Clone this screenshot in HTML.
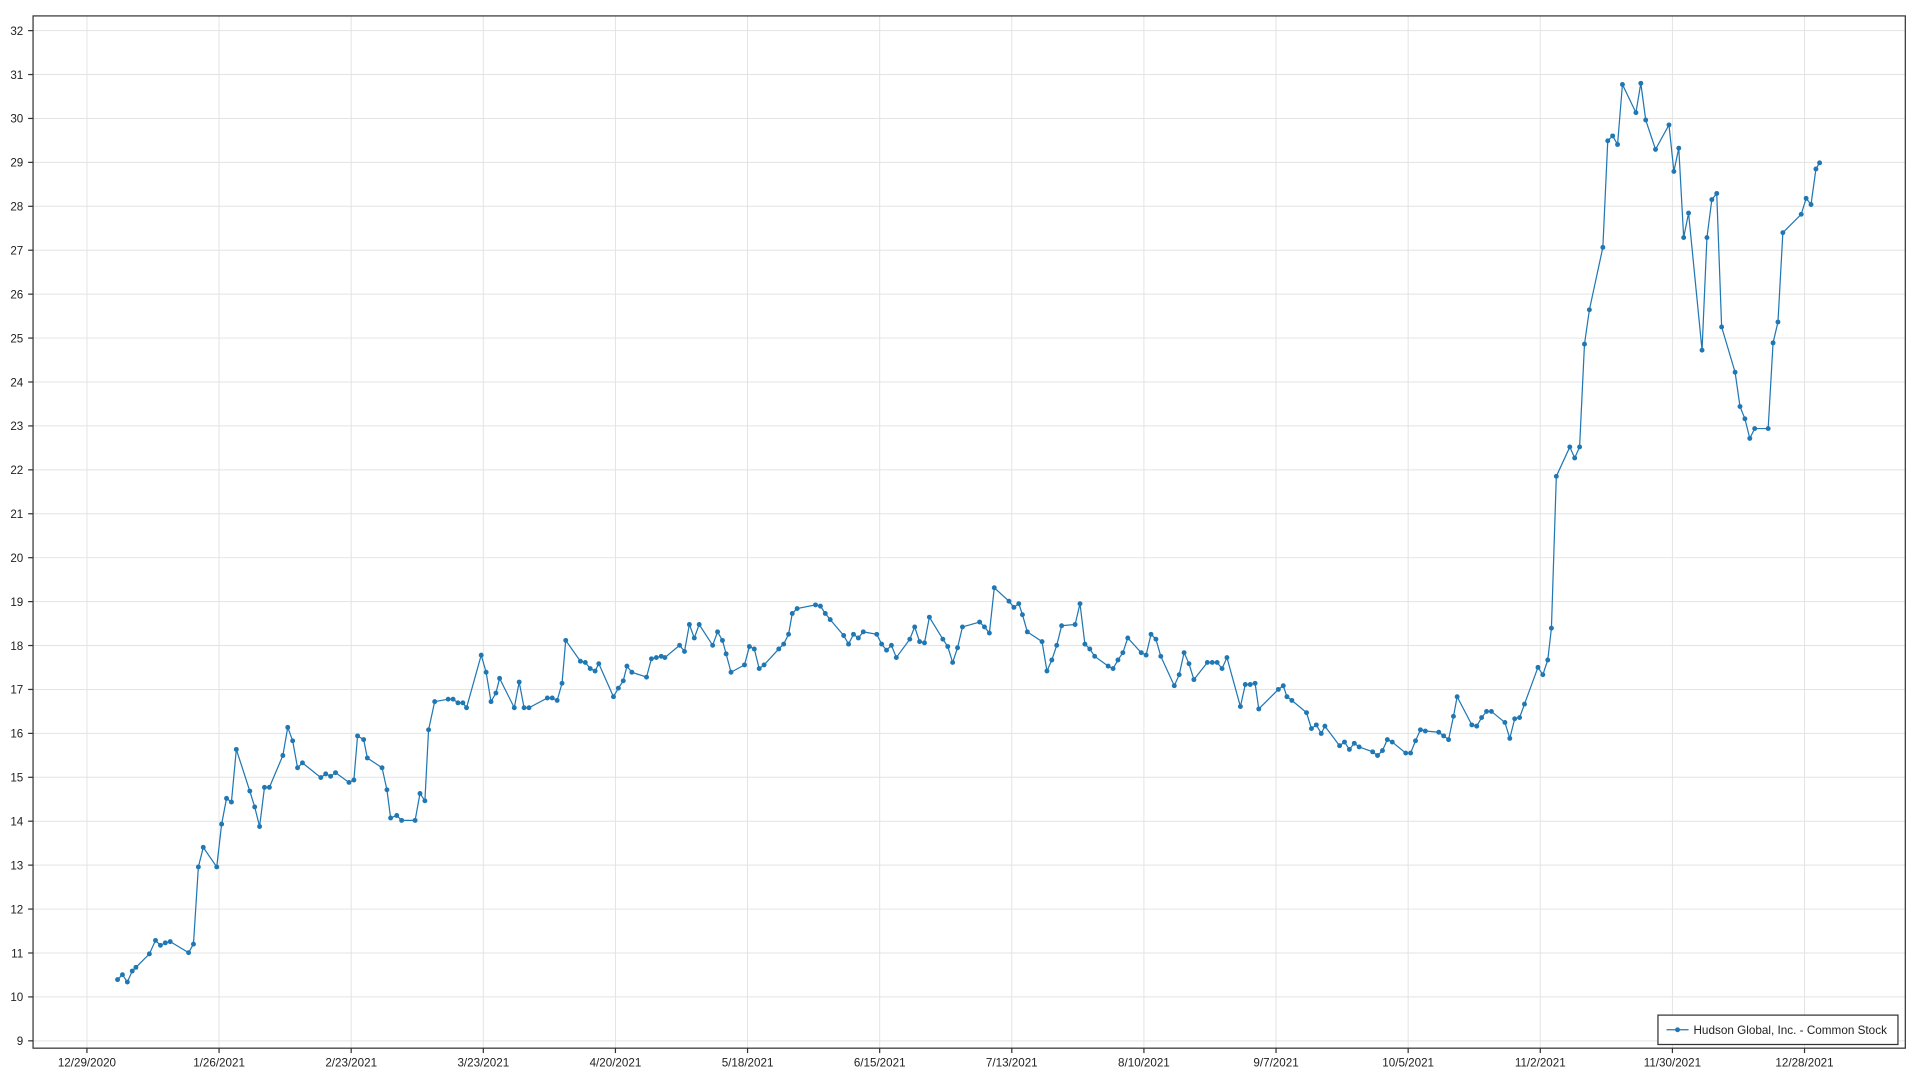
<!DOCTYPE html>
<html><head><style>body{margin:0;background:#fff}svg{display:block}text{font-family:"Liberation Sans",sans-serif;fill:#222}</style></head>
<body>
<svg width="1920" height="1080" viewBox="0 0 1568 882" preserveAspectRatio="none" xmlns="http://www.w3.org/2000/svg">
<rect width="1568" height="882" fill="#fff"/>
<g id="grid" stroke="#e3e3e3" stroke-width="0.8"></g>
<rect x="27" y="13" width="1529" height="843" fill="none" stroke="#333" stroke-width="1"/>
<g id="lab" font-size="9.5"></g>
<polyline id="ln" fill="none" stroke="#1f77b4" stroke-width="1"/>
<g id="pts" fill="#1f77b4"></g>
<rect x="1354" y="829" width="196" height="24" fill="#fff" stroke="#333" stroke-width="1"/>
<line x1="1361" y1="841" x2="1379" y2="841" stroke="#1f77b4"/><circle cx="1370" cy="841" r="2" fill="#1f77b4"/>
<text x="1383" y="844.5" font-size="9.5" textLength="158" lengthAdjust="spacingAndGlyphs">Hudson Global, Inc. - Common Stock</text>
</svg>
<script>
var ns="http://www.w3.org/2000/svg",g=document.getElementById('grid'),lab=document.getElementById('lab');
function el(p,t,a,txt){var e=document.createElementNS(ns,t);for(var k in a)e.setAttribute(k,a[k]);if(txt)e.textContent=txt;p.appendChild(e);}
for(var v=9;v<=32;v++){var y=25+(32-v)*35.87;el(g,'line',{x1:27,x2:1556,y1:y,y2:y});el(lab,'text',{x:19,y:y+3.5,'text-anchor':'end'},''+v);el(lab,'line',{x1:23,x2:27,y1:y,y2:y,stroke:'#333'});}
var d=["12/29/2020","1/26/2021","2/23/2021","3/23/2021","4/20/2021","5/18/2021","6/15/2021","7/13/2021","8/10/2021","9/7/2021","10/5/2021","11/2/2021","11/30/2021","12/28/2021"];
d.forEach(function(s,i){var x=71+i*107.9;el(g,'line',{x1:x,x2:x,y1:13,y2:856});el(lab,'line',{x1:x,x2:x,y1:856,y2:860,stroke:'#333'});el(lab,'text',{x:x,y:871,'text-anchor':'middle'},s);});
var P=[[96,800],[100,796],[104,802],[108,793],[111,790],[122,779],[127,768],[131,772],[135,770],[139,769],[154,778],[158,771],[162,708],[166,692],[177,708],[181,673],[185,652],[189,655],[193,612],[204,646],[208,659],[212,675],[216,643],[220,643],[231,617],[235,594],[239,605],[243,627],[247,623],[262,635],[266,632],[270,634],[274,631],[285,639],[289,637],[292,601],[297,604],[300,619],[312,627],[316,645],[319,668],[324,666],[328,670],[339,670],[343,648],[347,654],[350,596],[355,573],[366,571],[370,571],[374,574],[378,574],[381,578],[393,535],[397,549],[401,573],[405,566],[408,554],[420,578],[424,557],[428,578],[432,578],[447,570],[451,570],[455,572],[459,558],[462,523],[474,540],[478,541],[482,546],[486,548],[489,542],[501,569],[505,562],[509,556],[512,544],[516,549],[528,553],[532,538],[536,537],[540,536],[543,537],[555,527],[559,532],[563,510],[567,521],[571,510],[582,527],[586,516],[590,523],[593,534],[597,549],[608,543],[612,528],[616,530],[620,546],[624,543],[636,530],[640,526],[644,518],[647,501],[651,497],[666,494],[670,495],[674,501],[678,506],[689,519],[693,526],[697,518],[701,521],[705,516],[716,518],[720,526],[724,531],[728,527],[732,537],[743,522],[747,512],[751,524],[755,525],[759,504],[770,522],[774,528],[778,541],[782,529],[786,512],[800,508],[804,512],[808,517],[812,480],[824,491],[828,496],[832,493],[835,502],[839,516],[851,524],[855,548],[859,539],[863,527],[867,511],[878,510],[882,493],[886,526],[890,530],[894,536],[905,544],[909,546],[913,539],[917,533],[921,521],[932,533],[936,535],[940,518],[944,522],[948,536],[959,560],[963,551],[967,533],[971,542],[975,555],[986,541],[990,541],[994,541],[998,546],[1002,537],[1013,577],[1017,559],[1021,559],[1025,558],[1028,579],[1044,563],[1048,560],[1051,569],[1055,572],[1067,582],[1071,595],[1075,592],[1079,599],[1082,593],[1094,609],[1098,606],[1102,612],[1106,607],[1110,610],[1121,614],[1125,617],[1129,613],[1133,604],[1137,606],[1148,615],[1152,615],[1156,605],[1160,596],[1164,597],[1175,598],[1179,601],[1183,604],[1187,585],[1190,569],[1202,592],[1206,593],[1210,586],[1214,581],[1218,581],[1229,590],[1233,603],[1237,587],[1241,586],[1245,575],[1256,545],[1260,551],[1264,539],[1267,513],[1271,389],[1282,365],[1286,374],[1290,365],[1294,281],[1298,253],[1309,202],[1313,115],[1317,111],[1321,118],[1325,69],[1336,92],[1340,68],[1344,98],[1352,122],[1363,102],[1367,140],[1371,121],[1375,194],[1379,174],[1390,286],[1394,194],[1398,163],[1402,158],[1406,267],[1417,304],[1421,332],[1425,342],[1429,358],[1433,350],[1444,350],[1448,280],[1452,263],[1456,190],[1471,175],[1475,162],[1479,167],[1483,138],[1486,133]];
document.getElementById('ln').setAttribute('points',P.map(function(p){return p.join(',')}).join(' '));
var pts=document.getElementById('pts');P.forEach(function(p){el(pts,'circle',{cx:p[0],cy:p[1],r:2});});
</script>
</body></html>
